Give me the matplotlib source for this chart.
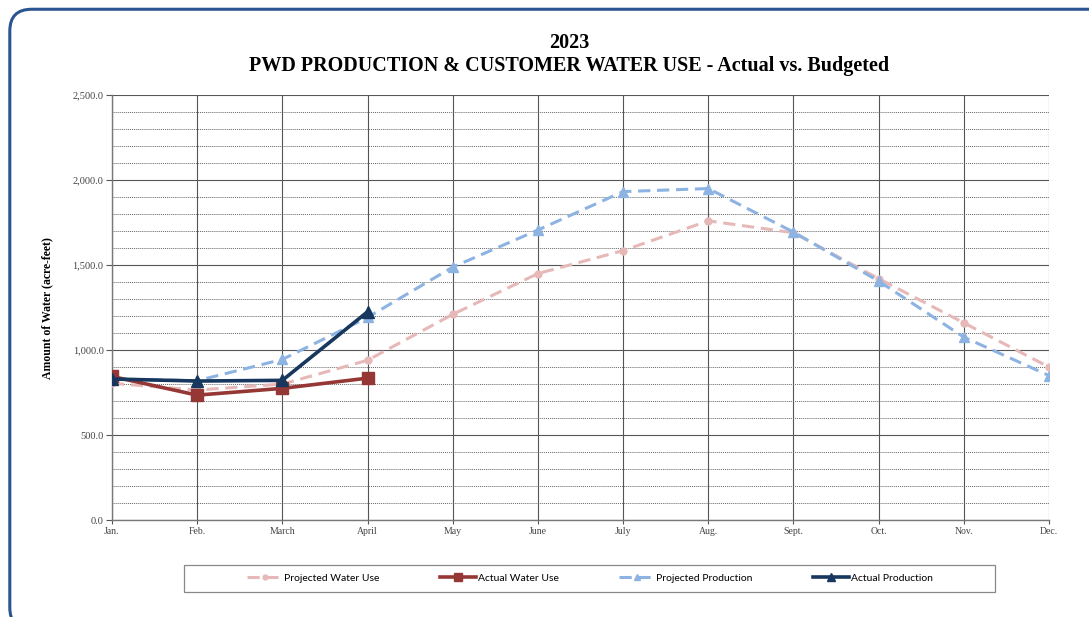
import matplotlib
matplotlib.use("Agg")
import matplotlib.pyplot as plt
from matplotlib.patches import FancyBboxPatch, Rectangle
from matplotlib.ticker import MultipleLocator, FuncFormatter

months = ["Jan.", "Feb.", "March", "April", "May", "June", "July", "Aug.", "Sept.", "Oct.", "Nov.", "Dec."]
projected_water_use = [805, 765, 800, 940, 1210, 1450, 1585, 1760, 1690, 1420, 1160, 900]
actual_water_use = [845, 735, 775, 835]
projected_production = [830, 820, 945, 1192, 1488, 1706, 1932, 1950, 1694, 1406, 1076, 850]
actual_production = [830, 818, 822, 1225]

fig = plt.figure(figsize=(10.89, 6.17), dpi=100)
fig.patch.set_facecolor("white")

# rounded border
border = FancyBboxPatch((0.009, -0.02), 1.05, 1.005, boxstyle="round,pad=0,rounding_size=0.02",
                        transform=fig.transFigure, fill=False, edgecolor="#2b5591", linewidth=2.2,
                        mutation_aspect=1089/617)
fig.patches.append(border)

ax = fig.add_axes([0.1028, 0.157, 0.8605, 0.689])
x = list(range(len(months)))

ax.plot(x, projected_water_use, color="#e6b9b8", lw=2.2, ls=(0, (4, 2.2)), marker="o", ms=5,
        label="Projected Water Use", zorder=3)
ax.plot(x[:len(actual_water_use)], actual_water_use, color="#953735", lw=2.6, marker="s", ms=8,
        label="Actual Water Use", zorder=4)
ax.plot(x, projected_production, color="#8db3e2", lw=2.2, ls=(0, (4, 2.2)), marker="^", ms=7,
        label="Projected Production", zorder=3)
ax.plot(x[:len(actual_production)], actual_production, color="#17375e", lw=2.6, marker="^", ms=8,
        label="Actual Production", zorder=5)

ax.set_xlim(0, 11)
ax.set_ylim(0, 2500)
ax.set_xticks(x)
ax.set_xticklabels(months, family="Liberation Serif", fontsize=7, color="#444444")
ax.yaxis.set_major_locator(MultipleLocator(500))
ax.yaxis.set_minor_locator(MultipleLocator(100))
ax.yaxis.set_major_formatter(FuncFormatter(lambda v, p: f"{v:,.1f}"))
for lab in ax.get_yticklabels():
    lab.set_family("Liberation Serif")
    lab.set_fontsize(7.5)
    lab.set_color("#444444")
ax.tick_params(axis="y", which="major", length=4, width=0.8, color="#555555", pad=2)
ax.tick_params(axis="y", which="minor", length=0)
ax.tick_params(axis="x", length=3, width=0.8, color="#555555", pad=2)

ax.grid(True, axis="x", color="#555555", lw=0.8, ls="-")
ax.grid(True, axis="y", which="major", color="#555555", lw=0.8, ls="-")
ax.grid(True, axis="y", which="minor", color="#666666", lw=0.7, ls=(0, (1, 1)))
ax.set_axisbelow(True)
for s in ["top", "right"]:
    ax.spines[s].set_visible(False)
for s in ["left", "bottom"]:
    ax.spines[s].set_color("#777777")
    ax.spines[s].set_linewidth(1.0)

ax.set_ylabel("Amount of Water (acre-feet)", family="Liberation Serif", fontweight="bold",
              fontsize=8.5, labelpad=14)

fig.text(0.5225, 0.930, "2023", ha="center", va="center", family="Liberation Serif",
         fontweight="bold", fontsize=14.5)
fig.text(0.5225, 0.893, "PWD PRODUCTION & CUSTOMER WATER USE - Actual vs. Budgeted", ha="center",
         va="center", family="Liberation Serif", fontweight="bold", fontsize=14.5)

# legend frame
fig.patches.append(Rectangle((0.169, 0.0405), 0.745, 0.0438, transform=fig.transFigure,
                             fill=False, edgecolor="#888888", linewidth=0.9))
leg = fig.legend(loc="center", bbox_to_anchor=(0.5415, 0.0624), ncol=4, frameon=False,
                 prop={"family": "Lato", "size": 7.5}, handlelength=3.4, handletextpad=0.2,
                 columnspacing=5.8, markerscale=0.7, borderaxespad=0)

fig.savefig("out.png", dpi=100)
